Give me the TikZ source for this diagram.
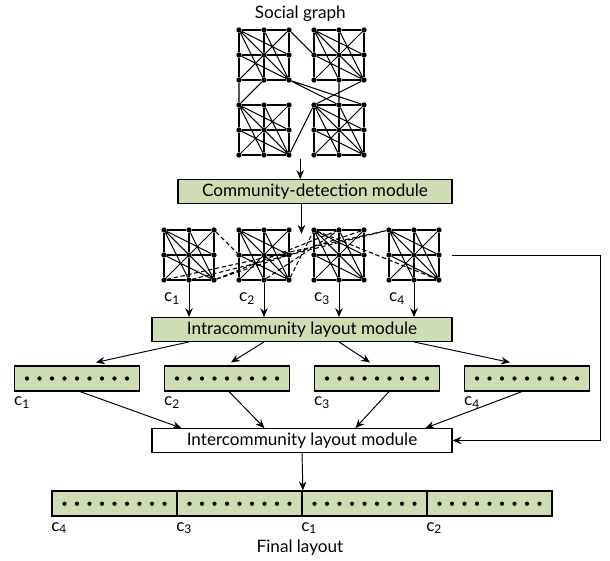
\documentclass[tikz,border=0pt]{standalone}
\usepackage{fontspec}
\setmainfont{Lato}
\usepackage{xcolor}
\usepackage{tikz}
\usetikzlibrary{arrows.meta}
\definecolor{modgreen}{RGB}{206,221,179}

% one 3x3 community: top left corner, name prefix
\newcommand{\cblock}[3]{%
  \foreach \i in {0,1,2}
    \foreach \j in {0,1,2}
      \node[vertex] (#3-\i\j) at ({#1+\i},{#2-\j}) {};
  \foreach \j in {0,1,2}
    \draw[edge] (#3-0\j) -- (#3-1\j) -- (#3-2\j);
  \foreach \i in {0,1,2}
    \draw[edge] (#3-\i0) -- (#3-\i1) -- (#3-\i2);
  \draw[edge] (#3-00) -- (#3-22) (#3-00) -- (#3-21) (#3-00) -- (#3-12)
    (#3-10) -- (#3-22) (#3-01) -- (#3-22) (#3-20) -- (#3-02);
}

\begin{document}
\begin{tikzpicture}[>={Stealth[length=10pt,width=8.5pt]},
	vertex/.style={circle, fill=black, inner sep=0pt, minimum size=6pt},
	edge/.style={line width=1.2pt},
	txt/.style={font=\fontsize{19.5}{23}\selectfont},
	module/.style={txt, draw, line width=1.3pt, fill=modgreen, minimum height=0.95cm},
	layoutbox/.style={draw, line width=1.3pt, fill=modgreen, minimum width=5cm, minimum height=1cm},
	clabel/.style={txt, anchor=north west, inner sep=0pt},
	flow/.style={->, line width=1.1pt}]
	\useasboundingbox (-0.56,-0.24) rectangle (23.84,22.2);

	% social graph
	\node[txt] (title) at (11.45,21.64) {Social graph};
	\cblock{9}{21}{tl}
	\cblock{12}{21}{tr}
	\cblock{9}{18}{bl}
	\cblock{12}{18}{br}
	\draw[edge] (tl-20) -- (tr-01) (tl-02) -- (bl-00) (tl-12) -- (bl-00)
		(tl-22) -- (br-10) (tl-22) -- (br-20) (tr-22) -- (br-00)
		(tr-12) -- (br-10) (br-00) -- (bl-22);
	\coordinate (gbot) at (11.45,15.85);

	% modules
	\node[module, minimum width=10.96cm] (detect) at (12.04,14.54) {Community-detection module};
	\node[module, minimum width=12cm] (intra) at (11.52,9.02) {Intracommunity layout module};
	\node[module, minimum width=12cm, fill=white] (inter) at (11.52,4.58) {Intercommunity layout module};

	% communities
	\cblock{6}{13}{c1}
	\cblock{9}{13}{c2}
	\cblock{12}{13}{c3}
	\cblock{15}{13}{c4}
	\draw[edge, dash pattern=on 5pt off 3pt] (c1-20) -- (c2-01) (c1-02) -- (c4-00) (c1-12) -- (c4-00)
		(c1-22) -- (c3-10) (c1-22) -- (c3-20) (c2-22) -- (c3-00)
		(c2-12) -- (c3-10) (c3-00) -- (c4-22);
	\foreach \k in {1,...,4}
		\node[clabel] at ([yshift=-0.5cm]c\k-02.center) {c\textsubscript{\k}};
	\coordinate (split) at (11.5,12.85);
	\coordinate (fb) at (17.5,12);
	\coordinate (fbturn) at (23.44,12);

	% layouts of the communities
	\foreach \k/\x in {1/2.52,2/8.52,3/14.52,4/20.52} {
		\node[layoutbox] (l\k) at (\x,7.06) {};
		\foreach \d in {0,...,8}
			\fill ({\x-2+\d*0.5},7.06) circle (2.4pt);
		\node[clabel] at ([yshift=-0.2cm]l\k.south west) {c\textsubscript{\k}};
	}

	% final layout
	\foreach \k/\x in {4/4.02,3/9.02,1/14.02,2/19.02} {
		\node[layoutbox, line width=2pt] (f\k) at (\x,2.05) {};
		\foreach \d in {0,...,8}
			\fill ({\x-2+\d*0.5},2.05) circle (2.4pt);
		\node[clabel] at ([yshift=-0.2cm]f\k.south west) {c\textsubscript{\k}};
	}
	\node[txt] (final) at (11.44,0.28) {Final layout};

	% arrows
	\draw[flow] (gbot) -- (gbot |- detect.north);
	\draw[flow] (detect.south -| split) -- (split);
	\foreach \k in {1,...,4}
		\draw[flow] (c\k-12) -- (c\k-12 |- intra.north);
	\foreach \k/\s in {1/0.76,2/0.16,3/-0.28,4/-0.68}
		\draw[flow] (intra.south -| c\k-12) -- ([xshift=\s cm, yshift=0.12cm]l\k.north);
	\foreach \k/\s/\t in {1/0.12/1.2,2/0.08/4.52,3/0.48/8.16,4/-0.2/10.96}
		\draw[flow] ([xshift=\s cm]l\k.south) -- ([xshift=\t cm]inter.north west);
	\draw[flow] (fb) -- (fbturn) |- (inter.east);
	\draw[flow] (inter.south) -- (f3.north east);
\end{tikzpicture}
\end{document}
